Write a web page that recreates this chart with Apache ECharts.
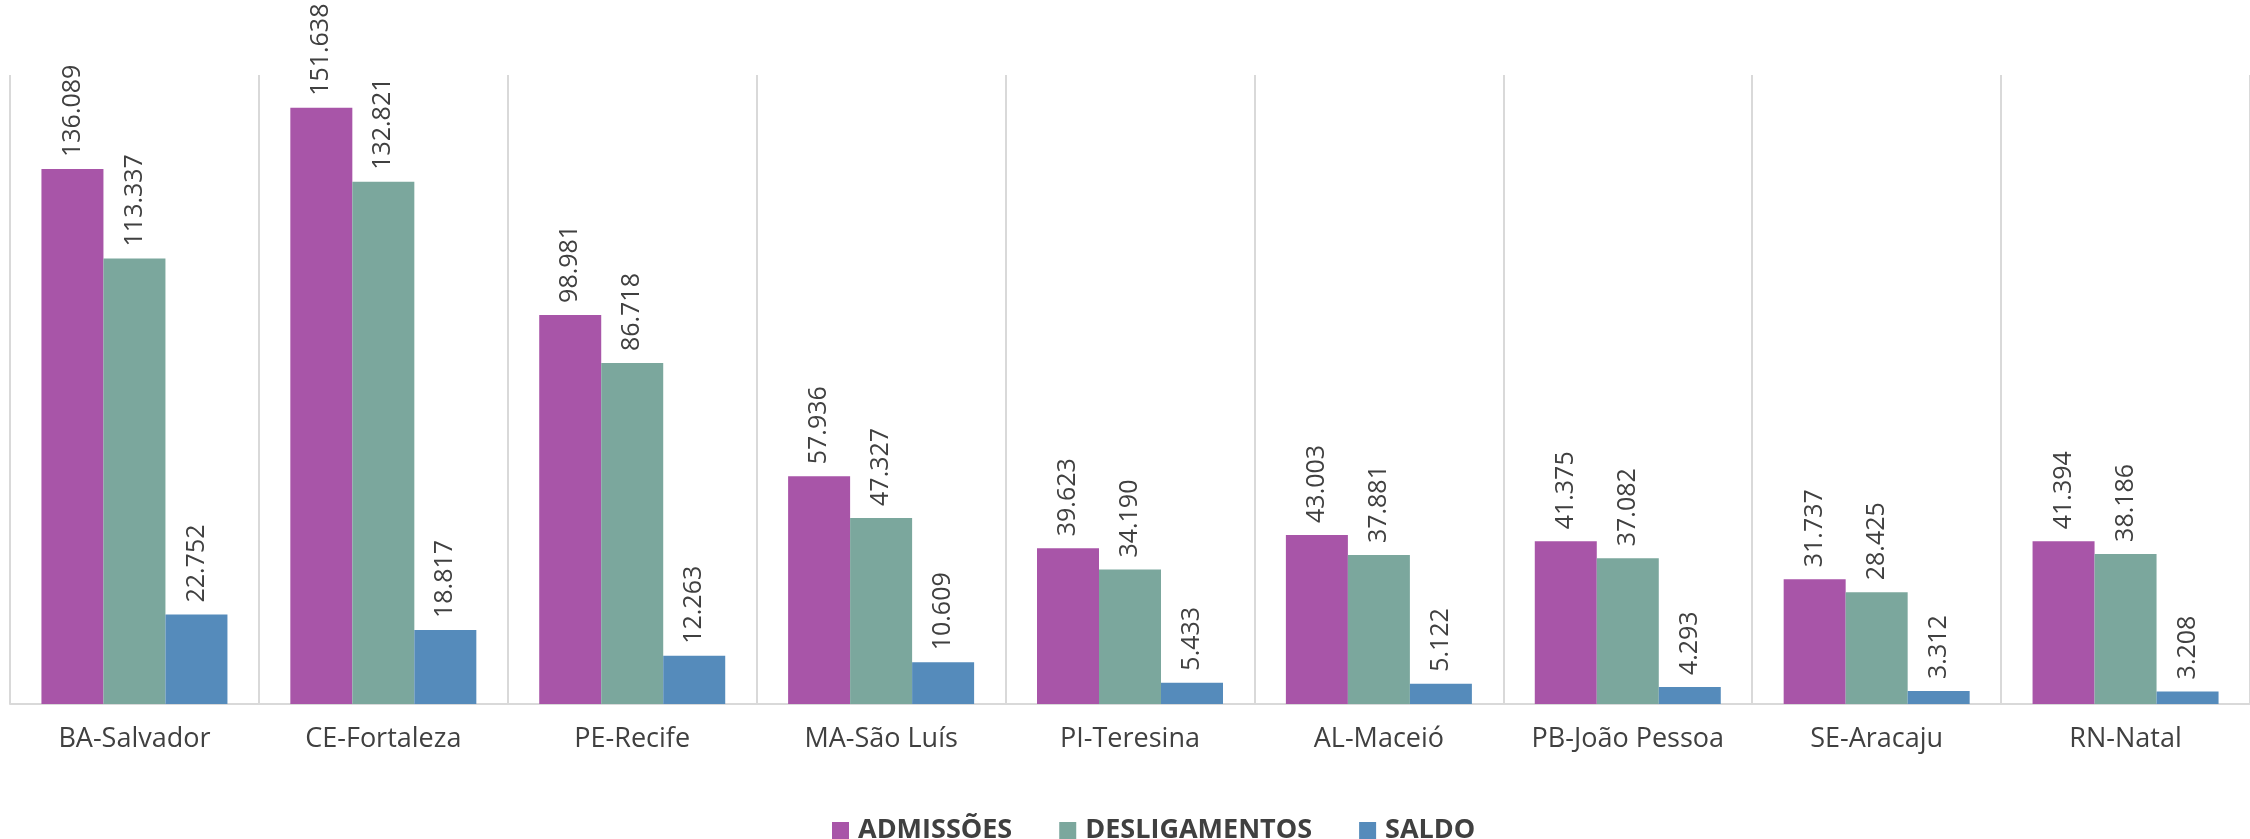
<!DOCTYPE html>
<html>
<head>
<meta charset="utf-8">
<script src="https://cdn.jsdelivr.net/npm/echarts@6/dist/echarts.min.js"></script>
<style>
html,body{margin:0;padding:0;background:#fff;}
#chart{width:2250px;height:839px;}
</style>
</head>
<body>
<div id="chart"></div>
<script>
const categories = ['BA-Salvador','CE-Fortaleza','PE-Recife','MA-São Luís','PI-Teresina','AL-Maceió','PB-João Pessoa','SE-Aracaju','RN-Natal'];
const admissoes = [136089,151638,98981,57936,39623,43003,41375,31737,41394];
const desligamentos = [113337,132821,86718,47327,34190,37881,37082,28425,38186];
const saldo = [22752,18817,12263,10609,5433,5122,4293,3312,3208];
const seriesNames = ['ADMISSÕES','DESLIGAMENTOS','SALDO'];
const colors = ['#a855a8','#7ba79d','#558bbb'];

function fmt(v){
  const t = Math.floor(v/1000), r = v % 1000;
  return t + '.' + String(r).padStart(3,'0');
}
const labelCfg = {
  show:true, position:'top', rotate:90, align:'left', verticalAlign:'middle',
  distance:12, color:'#404040', fontFamily:'Open Sans', fontSize:25,
  formatter: p => fmt(p.value)
};
const chart = echarts.init(document.getElementById('chart'));
const data = [admissoes, desligamentos, saldo];
chart.setOption({
  animation:false,
  color: colors,
  grid:{left:10, top:75, width:2259, height:629},
  legend:{
    data: seriesNames, top:812, left:827,
    itemWidth:17, itemHeight:17, itemGap:47, icon:'rect',
    textStyle:{fontFamily:'Open Sans', fontWeight:'bold', fontSize:27, color:'#404040', padding:[0,0,0,4]}
  },
  xAxis:{
    type:'category', data: categories,
    axisLine:{lineStyle:{color:'#d9d9d9', width:2}},
    axisTick:{show:false},
    splitLine:{show:true, interval:0, lineStyle:{color:'#d9d9d9', width:2}},
    axisLabel:{interval:0, margin:22, color:'#404040', fontFamily:'Open Sans', fontSize:27}
  },
  yAxis:{type:'value', min:0, max:160000, show:false, splitLine:{show:false}},
  series: seriesNames.map((n,i)=>({
    name:n, type:'bar', data:data[i], barWidth:62, barGap:'0%',
    label: labelCfg
  }))
});
</script>
</body>
</html>
